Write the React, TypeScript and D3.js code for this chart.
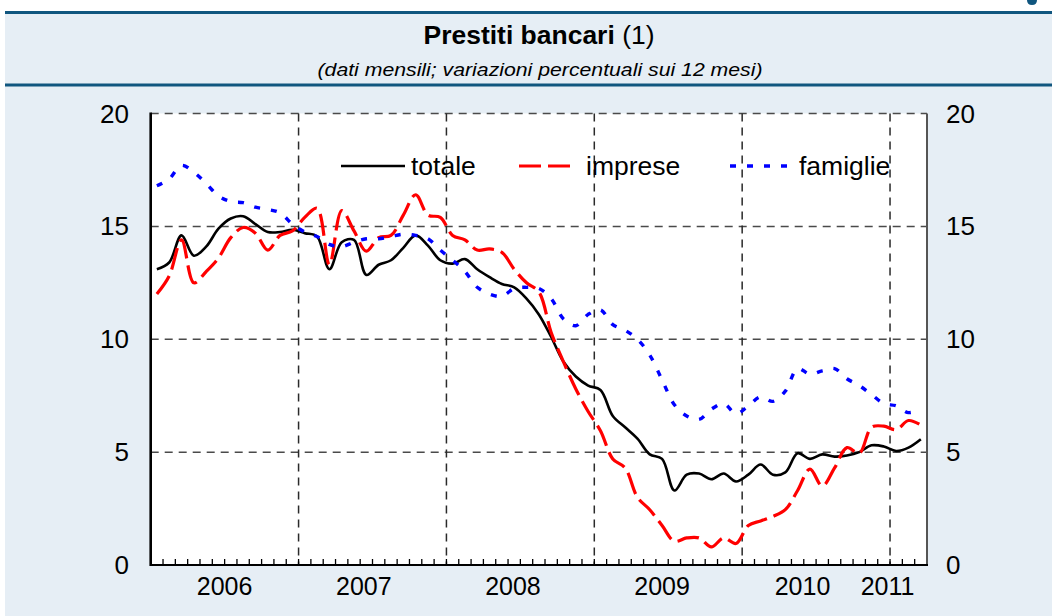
import React from "react";
import * as d3 from "d3";

const startYear = 2006;
const monthCount = 63; // Jan 2006 .. Mar 2011
const months = d3.range(monthCount).map((i) => new Date(startYear, i, 1));

const totale = [
  13.1, 13.4, 14.6, 13.7, 14.1, 14.9, 15.35, 15.45, 15.1, 14.75, 14.75, 14.85,
  14.7, 14.55, 13.1, 14.3, 14.4, 12.85, 13.3, 13.5, 14.05, 14.6, 14.15, 13.5,
  13.35, 13.55, 13.1, 12.75, 12.45, 12.3, 11.8, 11.1, 10.1, 9.0, 8.35, 7.95,
  7.75, 6.6, 6.1, 5.6, 4.9, 4.7, 3.3, 4.0, 4.05, 3.8, 4.05, 3.7,
  4.0, 4.45, 4.0, 4.1, 4.95, 4.7, 4.9, 4.8, 4.85, 5.0, 5.3, 5.25, 5.05, 5.2, 5.57,
];
const imprese = [
  12.0, 12.8, 14.4, 12.5, 13.0, 13.6, 14.5, 14.95, 14.7, 13.95, 14.6, 14.8,
  15.4, 15.8, 13.3, 15.7, 14.8, 13.9, 14.5, 14.6, 15.5, 16.4, 15.5, 15.4,
  14.6, 14.4, 13.95, 14.0, 13.85, 13.1, 12.5, 12.1, 10.3, 9.0, 7.8, 6.8,
  5.95, 4.7, 4.3, 3.0, 2.45, 1.75, 1.05, 1.2, 1.2, 0.8, 1.2, 0.95,
  1.75, 1.95, 2.15, 2.45, 3.3, 4.25, 3.5, 4.3, 5.2, 4.95, 6.1, 6.15, 6.0, 6.4, 6.2,
];
const famiglie = [
  16.8, 17.1, 17.7, 17.4, 16.9, 16.35, 16.1, 16.05, 15.85, 15.75, 15.6, 15.1,
  14.75, 14.55, 14.2, 14.1, 14.3, 14.45, 14.45, 14.55, 14.65, 14.6, 14.45, 13.95,
  13.5, 13.0, 12.3, 12.0, 11.9, 12.25, 12.3, 12.25, 11.8, 10.9, 10.6, 11.1,
  11.3, 10.65, 10.4, 10.0, 9.3, 8.2, 7.1, 6.6, 6.45, 6.9, 7.15, 6.7,
  7.05, 7.45, 7.25, 7.7, 8.7, 8.45, 8.6, 8.7, 8.25, 7.95, 7.55, 7.15, 7.05, 6.75, 6.9,
];

const yTicks = [0, 5, 10, 15, 20];
const yearLabels = ["2006", "2007", "2008", "2009", "2010", "2011"];
const yearLabelAt = [6.0, 17.3, 29.4, 41.5, 52.9, 59.8];

const seriesNames = ["totale", "imprese", "famiglie"];

const FONT = "'Liberation Sans', Arial, Helvetica, sans-serif";

export default function App() {
  const W = 1052;
  const H = 616;
  const left = 150.7;
  const right = 927;
  const top = 113.5;
  const bottom = 565;

  const x = d3.scaleLinear().domain([0, monthCount]).range([left, right]);
  const y = d3.scaleLinear().domain([0, 20]).range([bottom, top]);

  const line = d3
    .line<number>()
    .x((_, i) => x(i + 0.5))
    .y((d) => y(d))
    .curve(d3.curveCatmullRom.alpha(0.5));

  const series = [
    { name: seriesNames[0], data: totale, color: "#000000", width: 2.6, dash: "none" },
    { name: seriesNames[1], data: imprese, color: "#ff0000", width: 3.2, dash: "22 7" },
    { name: seriesNames[2], data: famiglie, color: "#0000ff", width: 3.4, dash: "6 11" },
  ];

  const yearStarts = months
    .map((m, i) => ({ m, i }))
    .filter((d) => d.m.getMonth() === 0 && d.i > 0)
    .map((d) => d.i);

  const legendItems = [
    { x1: 341, x2: 405, tx: 411 },
    { x1: 519, x2: 575, tx: 586 },
    { x1: 730, x2: 792, tx: 799 },
  ];

  return (
    <svg
      width={W}
      height={H}
      style={{ position: "absolute", left: 0, top: 0, background: "#ffffff" }}
      fontFamily={FONT}
    >
      {/* panel background */}
      <rect x={5} y={12} width={W - 5} height={H - 12} fill="#e6eef5" />
      <line x1={5} x2={W} y1={12.5} y2={12.5} stroke="#10567f" strokeWidth={3} />
      <line x1={5} x2={W} y1={85} y2={85} stroke="#10567f" strokeWidth={3} />
      <path d="M1027,0 Q1027,5 1032,5 Q1037,5 1037,0 Z" fill="#10567f" />

      {/* title */}
      <text
        x={539}
        y={44}
        textAnchor="middle"
        fontSize={25}
        fill="#000"
        textLength={231}
        lengthAdjust="spacingAndGlyphs"
      >
        <tspan fontWeight="bold">Prestiti bancari</tspan>
        <tspan> (1)</tspan>
      </text>
      <text
        x={540}
        y={76}
        textAnchor="middle"
        fontSize={19}
        fontStyle="italic"
        fill="#000"
        textLength={445}
        lengthAdjust="spacingAndGlyphs"
      >
        (dati mensili; variazioni percentuali sui 12 mesi)
      </text>

      {/* plot area */}
      <rect x={left} y={top} width={right - left} height={bottom - top} fill="#ffffff" />

      {/* horizontal grid */}
      {yTicks
        .filter((t) => t > 0)
        .map((t) => (
          <line
            key={"h" + t}
            x1={left}
            x2={right}
            y1={y(t)}
            y2={y(t)}
            stroke="#4a4a4a"
            strokeWidth={1.5}
            strokeDasharray="8 6"
          />
        ))}
      {/* vertical grid */}
      {yearStarts.map((i) => (
        <line
          key={"v" + i}
          x1={x(i)}
          x2={x(i)}
          y1={top}
          y2={bottom}
          stroke="#2a2a2a"
          strokeWidth={1.5}
          strokeDasharray="8 6"
        />
      ))}

      {/* monthly minor ticks */}
      {months.map((m, i) =>
        i > 0 ? (
          <line
            key={"t" + i}
            x1={x(i)}
            x2={x(i)}
            y1={bottom}
            y2={bottom - 6}
            stroke="#000"
            strokeWidth={1.3}
          />
        ) : null
      )}

      {/* series */}
      {series.map((s) => (
        <path
          key={s.name}
          d={line(s.data) || ""}
          fill="none"
          stroke={s.color}
          strokeWidth={s.width}
          strokeDasharray={s.dash}
          strokeLinejoin="round"
        />
      ))}

      {/* axes */}
      <line x1={right} x2={right} y1={top} y2={bottom} stroke="#555" strokeWidth={2} />
      <line x1={left} x2={left} y1={top - 1} y2={bottom + 1} stroke="#000" strokeWidth={2.6} />
      <line x1={left} x2={right + 1} y1={bottom} y2={bottom} stroke="#000" strokeWidth={2.2} />

      {/* y tick labels */}
      {yTicks.map((t) => (
        <g key={"yl" + t}>
          <text x={129} y={y(t) + 9} textAnchor="end" fontSize={26} fill="#000">
            {t}
          </text>
          <text x={946} y={y(t) + 9} textAnchor="start" fontSize={26} fill="#000">
            {t}
          </text>
        </g>
      ))}

      {/* year labels */}
      {yearLabels.map((l, i) => (
        <text
          key={l}
          x={x(yearLabelAt[i])}
          y={595}
          textAnchor="middle"
          fontSize={25}
          fill="#000"
        >
          {l}
        </text>
      ))}

      {/* legend */}
      {series.map((s, i) => (
        <g key={"lg" + s.name}>
          <line
            x1={legendItems[i].x1}
            x2={legendItems[i].x2}
            y1={166}
            y2={166}
            stroke={s.color}
            strokeWidth={s.width}
            strokeDasharray={s.dash}
          />
          <text x={legendItems[i].tx} y={175} fontSize={26.5} fill="#000">
            {s.name}
          </text>
        </g>
      ))}
    </svg>
  );
}
